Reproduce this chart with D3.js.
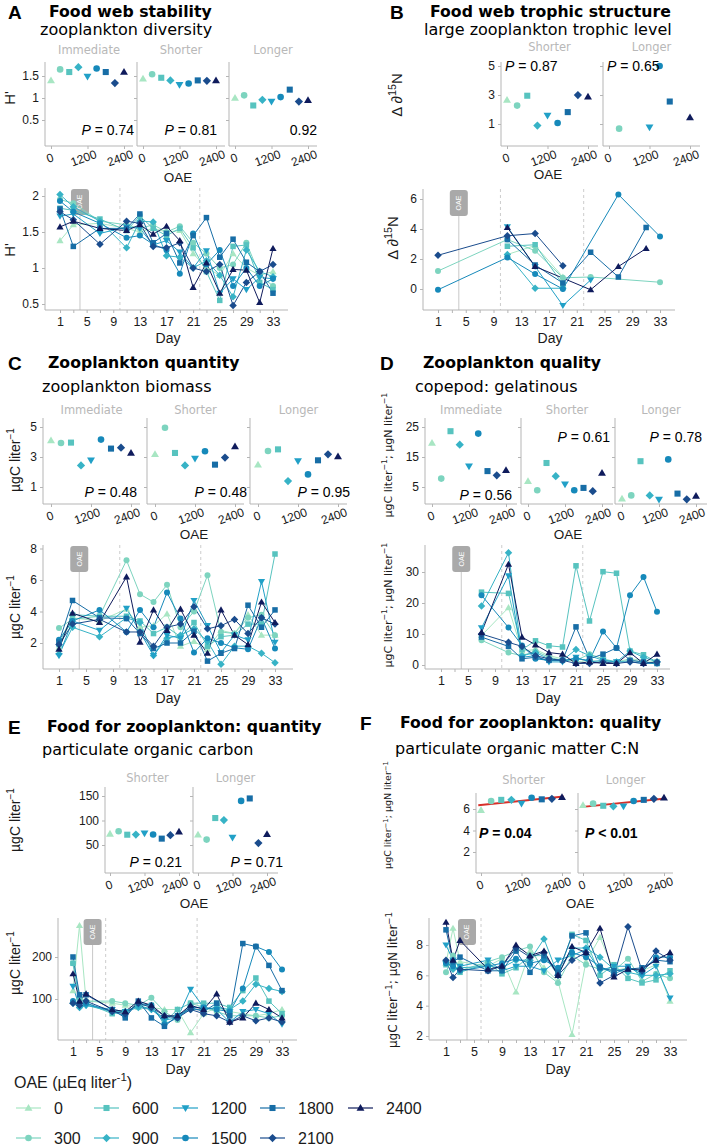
<!DOCTYPE html>
<html><head><meta charset="utf-8">
<script src="https://cdn.jsdelivr.net/npm/d3@7"></script>
<style>body{margin:0;background:#fff}</style>
</head><body><script>
// ---------------- DATA ----------------
const oaeLevels = [0,300,600,900,1200,1500,1800,2100,2400];
const tickOAE = [0,1200,2400];

// A: zooplankton diversity (H')
const diversityImmediate = [1.40,1.65,1.59,1.70,1.49,1.67,1.59,1.34,1.59];
const diversityShorter   = [1.44,1.54,1.46,1.40,1.30,1.33,1.40,1.39,1.40];
const diversityLonger    = [1.00,1.06,0.83,0.96,0.92,1.02,1.19,0.92,0.95];
const daysA = [1,3,7,11,13,15,17,19,21,23,25,27,29,31,33];
const diversityDaily = [
 [1.38,1.60,1.62,1.55,1.50,1.55,1.50,1.52,1.20,1.00,0.90,1.20,1.00,0.90,0.95],
 [1.95,1.90,1.65,1.60,1.55,1.60,1.50,1.58,1.35,1.20,1.00,1.05,1.35,0.90,0.75],
 [1.83,1.80,1.68,1.52,1.72,1.55,1.45,1.55,1.28,0.95,0.55,1.30,1.32,0.80,0.70],
 [2.02,1.85,1.65,1.28,1.65,1.64,1.17,1.15,1.00,1.10,0.90,0.60,1.25,0.95,0.88],
 [1.72,1.75,1.48,1.57,1.55,1.32,1.38,1.22,1.00,1.24,0.65,0.85,0.70,0.87,0.85],
 [1.93,1.78,1.62,1.42,1.45,1.33,1.25,0.92,1.48,1.05,1.25,0.75,1.00,0.75,0.85],
 [1.82,1.30,1.55,1.55,1.75,1.35,1.48,1.07,1.45,1.70,1.15,1.40,1.08,0.95,0.65],
 [1.78,1.67,1.33,1.65,1.62,1.30,1.28,1.35,1.00,0.95,1.05,0.48,0.80,0.95,1.05],
 [1.57,1.65,1.55,1.52,1.60,1.47,1.58,1.38,0.73,1.07,0.65,0.98,0.97,0.52,1.27]
];

// B: large zooplankton trophic level (delta d15N)
const trophicShorter = [2.66,2.27,2.95,0.89,1.59,1.07,1.82,3.00,2.89];
const trophicLonger  = [null,0.68,null,null,0.77,5.00,2.55,null,1.45];
const daysB = [1,11,15,19,23,27,31,33];
const trophicDaily = [
 [null,2.30,2.90,0.80,null,null,null,null],
 [1.20,3.30,2.55,0.75,0.80,null,null,0.45],
 [null,2.85,2.95,0.30,null,null,null,null],
 [null,2.30,0.05,0.05,null,null,null,null],
 [null,4.15,1.50,-1.10,0.60,null,null,null],
 [-0.05,2.10,1.00,0.00,null,6.30,null,3.50],
 [null,3.30,1.60,0.40,2.45,0.80,4.10,null],
 [2.25,3.55,3.70,1.55,null,null,null,null],
 [null,4.10,1.50,null,-0.05,1.50,2.70,null]
];

// C: zooplankton biomass
const biomassImmediate = [4.10,3.93,3.96,2.44,2.78,4.16,3.56,3.62,3.27];
const biomassShorter   = [3.18,4.95,3.27,2.44,2.89,3.38,2.49,2.96,3.71];
const biomassLonger    = [2.49,3.40,3.51,1.40,2.73,1.84,2.78,3.18,3.04];
const biomassDaily = [
 [1.7,3.6,3.4,4.15,3.0,3.1,3.85,1.8,2.1,1.6,2.8,2.6,3.8,2.5,2.5],
 [2.95,3.5,3.7,7.25,5.1,4.6,5.7,3.0,4.0,6.3,2.7,2.6,3.6,3.8,2.5],
 [1.9,3.8,3.7,3.7,3.4,2.6,3.0,2.4,3.3,1.8,2.4,2.5,3.2,3.2,7.65],
 [1.3,3.0,2.4,3.6,3.3,1.2,2.3,2.5,2.9,2.1,0.65,1.8,1.8,1.35,0.75],
 [1.2,3.4,2.8,4.2,2.7,1.2,2.5,2.3,4.7,3.1,1.4,2.5,2.2,5.9,2.05],
 [2.2,3.4,4.1,2.7,4.1,3.0,5.2,3.55,1.4,2.3,2.0,1.7,1.6,3.6,1.65],
 [2.05,4.7,3.6,3.55,2.6,1.65,2.0,2.0,2.75,0.85,1.35,1.65,4.4,3.0,4.1],
 [1.9,3.2,3.5,2.7,2.7,1.8,3.0,3.2,4.3,2.9,3.1,3.5,2.6,3.6,3.2],
 [1.6,3.9,3.3,6.2,2.05,4.1,2.8,4.15,2.5,1.35,4.1,2.5,1.9,4.6,3.3]
];

// D: copepod : gelatinous
const ratioImmediate = [19.7,7.8,23.6,19.1,11.9,22.8,10.3,8.9,10.6];
const ratioShorter   = [6.9,3.9,13.0,8.6,5.9,3.9,4.7,3.6,9.7];
const ratioLonger    = [1.1,2.2,13.6,2.2,0.8,14.2,2.8,0.9,2.0];
const daysD = [7,11,13,15,17,19,21,23,25,27,29,31,33];
const ratioDaily = [
 [9.5,18.5,4.5,5.0,3.0,2.0,1.0,1.5,1.0,1.0,2.0,1.5,1.0],
 [8.0,4.0,3.0,4.5,2.5,1.5,1.5,3.5,2.0,1.0,1.5,1.0,0.5],
 [23.5,23.1,5.0,7.8,6.2,5.8,32.0,14.2,30.1,29.6,4.5,3.3,1.0],
 [19.0,36.2,3.0,4.0,2.0,1.5,5.0,3.0,1.5,1.0,4.5,2.5,1.0],
 [12.0,28.8,2.5,3.0,1.0,1.0,2.5,1.0,1.5,1.0,1.0,0.5,0.5],
 [22.5,12.1,6.3,2.0,1.5,1.5,2.0,1.5,10.8,5.5,22.5,28.4,17.2],
 [9.0,6.0,2.0,2.5,1.5,1.5,12.3,2.0,3.5,5.5,1.5,1.0,0.5],
 [10.0,7.3,6.0,3.0,2.0,1.5,0.5,0.5,1.0,0.5,1.0,0.5,1.0],
 [10.5,32.5,9.0,6.5,4.0,3.5,0.5,1.0,0.5,0.5,4.0,0.5,3.5]
];

// E: particulate organic carbon
const pocShorter = [72.8,78,71,71.4,74,71.4,63,70,77];
const pocLonger  = [71,61,105,101,65,140,145,54,72];
const daysE = [1,2,3,7,9,11,13,15,17,19,21,23,25,27,29,31,33];
const pocDaily = [
 [120,275,95,90,85,80,80,75,75,20,65,80,70,65,60,65,75],
 [185,100,95,95,90,85,103,70,50,90,80,70,60,60,60,55,60],
 [185,100,90,65,70,85,85,45,75,90,90,90,80,120,150,95,65],
 [90,80,85,70,70,80,75,55,60,75,75,80,75,95,135,125,118],
 [130,80,85,75,70,85,75,50,55,123,80,75,45,70,75,65,40],
 [95,90,90,70,60,90,85,40,55,80,80,75,70,125,225,212,170],
 [200,110,110,75,55,95,55,35,60,80,70,90,60,232,225,180,120],
 [90,85,95,70,65,90,80,60,55,75,65,60,45,60,48,55,45],
 [160,95,112,75,70,95,85,60,60,85,75,112,45,55,90,75,55]
];

// F: particulate organic matter C:N
const cnShorter = [5.9,6.75,6.85,6.85,6.5,7.05,6.9,6.95,7.1];
const cnLonger  = [6.35,6.5,6.3,6.25,6.25,6.75,6.85,6.95,7.05];
const cnDaily = [
 [6.8,9.1,6.9,6.6,7.1,4.9,7.6,6.5,5.6,2.1,6.9,8.5,6.3,6.5,6.3,6.7,4.3],
 [6.2,7.3,6.3,6.9,7.2,7.6,7.9,6.2,5.5,7.3,6.7,6.4,6.3,7.1,5.6,6.1,5.8],
 [6.7,6.8,6.2,6.8,6.1,6.5,7.3,7.3,6.0,8.7,8.3,6.0,6.7,5.8,5.5,5.7,6.3],
 [6.9,6.4,6.5,6.6,6.5,7.0,7.0,8.4,6.0,7.8,7.8,7.2,6.4,6.2,6.0,6.0,6.1],
 [8.0,7.0,6.6,7.0,6.3,6.6,6.6,6.3,7.0,7.3,7.7,6.3,6.6,6.6,6.0,6.6,4.5],
 [6.8,6.6,6.3,6.6,6.8,7.1,6.8,7.0,6.5,7.5,7.2,6.6,6.1,6.5,6.2,7.2,7.2],
 [9.0,6.9,7.2,6.3,6.3,7.6,6.2,7.3,6.2,8.6,8.8,6.5,6.3,6.4,6.5,7.0,6.9],
 [7.0,5.85,6.4,6.3,6.6,7.8,7.2,7.5,6.0,7.0,7.5,5.5,6.0,9.2,6.3,7.6,7.0],
 [9.5,7.0,8.3,6.4,6.6,8.0,7.3,7.6,6.0,7.9,7.5,9.1,5.9,6.4,6.4,7.0,7.5]
];

// ---------------- STYLE ----------------
const levelColors = ["#a8e6c3","#7dd4bf","#57c3bf","#37b3c6","#21a0c7","#1689ba","#176da6","#1a4c8d","#0f1b5c"];
const levelShapes = ["tri","circle","square","diamond","triDown","circle","square","diamond","tri"];
const TF = "'DejaVu Sans', Verdana, sans-serif";
const AF = "'Liberation Sans', Arial, sans-serif";
const AXC = "#b5b5b5", TXC = "#1a1a1a";
const fmt = d => String(d);

const svg = d3.select("body").append("svg").attr("width",707).attr("height",1146);

function shapePath(k,s){
  if(k==="circle") return d3.symbol(d3.symbolCircle, Math.PI*s*s)();
  if(k==="square"){const a=s*0.92;return `M${-a},${-a}H${a}V${a}H${-a}Z`;}
  if(k==="tri") return `M0,${-s*1.2}L${s*1.2},${s*0.85}L${-s*1.2},${s*0.85}Z`;
  if(k==="triDown") return `M0,${s*1.2}L${s*1.2},${-s*0.85}L${-s*1.2},${-s*0.85}Z`;
  const b=s*1.25; return `M0,${-b}L${b},0L0,${b}L${-b},0Z`;
}

function header(letter,lx,title,tx,sub,sx,cy,scy){
  svg.append("text").attr("x",lx).attr("y",cy).attr("dy","0.35em").style("font",`bold 19px ${AF}`).attr("fill","#000").text(letter);
  svg.append("text").attr("x",tx).attr("y",cy).attr("dy","0.35em").style("font",`bold 15.7px ${TF}`).attr("fill","#000").text(title);
  svg.append("text").attr("x",sx).attr("y",scy).attr("dy","0.35em").style("font",`16px ${TF}`).attr("fill","#000").text(sub);
}

function richText(sel, parts, size){
  let up=false;
  parts.forEach(([t,sup])=>{
    const ts=sel.append("tspan").text(t);
    if(sup&&!up){ts.attr("dy",-size*0.4).style("font-size",(size*0.72)+"px");up=true;}
    else if(!sup&&up){ts.attr("dy",size*0.4);up=false;}
    else if(sup) ts.style("font-size",(size*0.72)+"px");
  });
}
function yTitle(x,y,parts,size,family){
  const t=svg.append("text").attr("transform",`translate(${x},${y}) rotate(-90)`).attr("text-anchor","middle")
    .attr("dy","0.35em").style("font",`${size}px ${family||AF}`).attr("fill",TXC);
  richText(t,parts,size);
}
const unitC = [["µgC liter"],["−1",true]];
const unitCN = [["µgC liter"],["−1",true],["; µgN liter"],["−1",true]];
const unitN = [["Δ ∂"],["15",true],["N"]];

function styleAxis(g,size){
  g.select(".domain").remove();
  g.selectAll(".tick line").attr("stroke",AXC);
  g.selectAll(".tick text").attr("fill",TXC).style("font",`${size||12}px ${AF}`);
}

function facetPanel(c){
  const y=d3.scaleLinear().domain(c.yDomain).range(c.yRange);
  c.facets.forEach((f,fi)=>{
    const g=svg.append("g");
    const x=d3.scaleLinear().domain([0,2400]).range([f.ax+c.xOff[0],f.ax+c.xOff[1]]);
    g.append("path").attr("d",`M${f.ax},${c.top}V${c.bottom}H${f.ax+c.width}`).attr("fill","none").attr("stroke",AXC);
    const ya=d3.axisLeft(y).tickValues(c.yTicks).tickSize(3).tickPadding(3).tickFormat(fi>0?"":fmt);
    styleAxis(g.append("g").attr("transform",`translate(${f.ax},0)`).call(ya));
    const xa=d3.axisBottom(x).tickValues(tickOAE).tickSize(3).tickFormat("");
    styleAxis(g.append("g").attr("transform",`translate(0,${c.bottom})`).call(xa));
    tickOAE.forEach(v=>g.append("text").attr("transform",`translate(${x(v)-(v?4:1)},${c.bottom+12}) rotate(-20)`)
      .attr("text-anchor","middle").attr("dy","0.35em").style("font",`12px ${AF}`).attr("fill",TXC).text(v));
    g.append("text").attr("x",f.ax+c.width/2).attr("y",c.labelY).attr("dy","0.35em").attr("text-anchor","middle")
      .style("font",`11.5px ${TF}`).attr("fill","#b8b8b8").text(f.label);
    if(c.fit){
      const pts=oaeLevels.map((o,i)=>[o,f.values[i]]).filter(p=>p[1]!=null);
      const mx=d3.mean(pts,p=>p[0]), my=d3.mean(pts,p=>p[1]);
      const b=d3.sum(pts,p=>(p[0]-mx)*(p[1]-my))/d3.sum(pts,p=>(p[0]-mx)**2), a=my-b*mx;
      g.append("line").attr("x1",x(-80)).attr("x2",x(2450)).attr("y1",y(a+b*-80)).attr("y2",y(a+b*2450))
        .attr("stroke","#d7302a").attr("stroke-width",2);
    }
    oaeLevels.forEach((o,i)=>{
      const v=f.values[i]; if(v==null) return;
      g.append("path").attr("d",shapePath(levelShapes[i],c.ms)).attr("transform",`translate(${x(o)},${y(v)})`).attr("fill",levelColors[i]);
    });
    if(f.p){
      const t=g.append("text").attr("x",f.p.x).attr("y",f.p.y).attr("dy","0.35em").attr("text-anchor",f.p.anchor)
        .style("font",`${f.p.bold?"bold ":""}14px ${AF}`).attr("fill","#000");
      if(f.p.showP!==false){t.append("tspan").style("font-style","italic").text("P");t.append("tspan").text(` ${f.p.op||"="} `);}
      t.append("tspan").text(f.p.text);
    }
  });
  svg.append("text").attr("x",c.oae[0]).attr("y",c.oae[1]).attr("dy","0.35em").attr("text-anchor","middle")
    .style("font",`13.5px ${AF}`).attr("fill",TXC).text("OAE");
  yTitle(c.yt[0],c.yt[1],c.yt[2],c.yt[3],c.yt[4]);
}

function tsPanel(c){
  const x=d3.scaleLinear().domain([1,33]).range(c.xRange);
  const y=d3.scaleLinear().domain(c.yDomain).range(c.yRange);
  const g=svg.append("g");
  const boxH=27;
  g.append("line").attr("x1",x(4)).attr("x2",x(4)).attr("y1",c.top+boxH).attr("y2",c.bottom).attr("stroke","#c8c8c8");
  c.dash.forEach(d=>g.append("line").attr("x1",x(d)).attr("x2",x(d)).attr("y1",c.top).attr("y2",c.bottom)
    .attr("stroke","#cccccc").attr("stroke-dasharray","3,3"));
  g.append("path").attr("d",`M${c.ax},${c.top}V${c.bottom}H${c.right}`).attr("fill","none").attr("stroke",AXC);
  styleAxis(g.append("g").attr("transform",`translate(${c.ax},0)`).call(d3.axisLeft(y).tickValues(c.yTicks).tickSize(3).tickPadding(3).tickFormat(fmt)));
  const xa=d3.axisBottom(x).tickValues(d3.range(1,34,2)).tickSize(3).tickPadding(4).tickFormat(d=>(d-1)%4===0?d:"");
  styleAxis(g.append("g").attr("transform",`translate(0,${c.bottom})`).call(xa),12.5);
  g.append("rect").attr("x",x(4)-9).attr("y",c.top+1).attr("width",18).attr("height",boxH-1).attr("rx",3).attr("fill","#a9a9a9");
  g.append("text").attr("transform",`translate(${x(4)},${c.top+1+(boxH-1)/2}) rotate(-90)`).attr("text-anchor","middle")
    .attr("dy","0.35em").style("font",`7px ${AF}`).attr("fill","#fff").text("OAE");
  const line=d3.line().x(d=>x(d[0])).y(d=>y(d[1]));
  const series=c.rows.map(r=>c.days.map((d,j)=>[d,r[j]]).filter(p=>p[1]!=null));
  series.forEach((s,i)=>g.append("path").attr("d",line(s)).attr("fill","none").attr("stroke",levelColors[i]).attr("stroke-width",1));
  series.forEach((s,i)=>s.forEach(p=>g.append("path").attr("d",shapePath(levelShapes[i],3)).attr("transform",`translate(${x(p[0])},${y(p[1])})`).attr("fill",levelColors[i])));
  svg.append("text").attr("x",c.dayLabel[0]).attr("y",c.dayLabel[1]).attr("dy","0.35em").attr("text-anchor","middle")
    .style("font",`14px ${AF}`).attr("fill",TXC).text("Day");
  yTitle(c.yt[0],c.yt[1],c.yt[2],c.yt[3],c.yt[4]);
}

// ---------------- PANEL A ----------------
header("A",8,"Food web stability",49,"zooplankton diversity",40,12,29);
facetPanel({top:62,bottom:146,width:88,xOff:[6,79],yDomain:[0.5,1.5],yRange:[120,76],yTicks:[0.5,1,1.5],labelY:50,ms:3.3,
  facets:[{ax:45,label:"Immediate",values:diversityImmediate,p:{text:"0.74",x:134,y:130,anchor:"end"}},
          {ax:137,label:"Shorter",values:diversityShorter,p:{text:"0.81",x:217,y:130,anchor:"end"}},
          {ax:229,label:"Longer",values:diversityLonger,p:{text:"0.92",x:317,y:130,anchor:"end",showP:false}}],
  oae:[178,177],yt:[10,98,[["H'"]],15]});
tsPanel({ax:45,top:188,bottom:310,right:288,xRange:[60,273],yDomain:[0.5,2],yRange:[304,196],yTicks:[0.5,1,1.5,2],
  days:daysA,rows:diversityDaily,dash:[10,22],dayLabel:[168,338],yt:[10,250,[["H'"]],15]});

// ---------------- PANEL B ----------------
header("B",390,"Food web trophic structure",430,"large zooplankton trophic level",424,12,29);
facetPanel({top:62,bottom:146,width:97,xOff:[6,87],yDomain:[1,5],yRange:[124,66],yTicks:[1,3,5],labelY:47,ms:3.3,
  facets:[{ax:501,label:"Shorter",values:trophicShorter,p:{text:"0.87",x:505,y:66,anchor:"start"}},
          {ax:603,label:"Longer",values:trophicLonger,p:{text:"0.65",x:607,y:66,anchor:"start"}}],
  oae:[548,174],yt:[397,95,unitN,15]});
tsPanel({ax:423,top:189,bottom:310,right:675,xRange:[438,660],yDomain:[0,6],yRange:[289,199],yTicks:[0,2,4,6],
  days:daysB,rows:trophicDaily,dash:[10,22],dayLabel:[550,338],yt:[393,238,unitN,15]});

// ---------------- PANEL C ----------------
header("C",8,"Zooplankton quantity",48,"zooplankton biomass",42,363,386);
facetPanel({top:418,bottom:504,width:97,xOff:[8,88],yDomain:[1,5],yRange:[487,427],yTicks:[1,3,5],labelY:410,ms:3.3,
  facets:[{ax:43,label:"Immediate",values:biomassImmediate,p:{text:"0.48",x:137,y:492,anchor:"end"}},
          {ax:147,label:"Shorter",values:biomassShorter,p:{text:"0.48",x:247,y:492,anchor:"end"}},
          {ax:250,label:"Longer",values:biomassLonger,p:{text:"0.95",x:350,y:492,anchor:"end"}}],
  oae:[194,534],yt:[15,460,unitC,14]});
tsPanel({ax:43,top:545,bottom:669,right:293,xRange:[59,275],yDomain:[2,6],yRange:[643,580],yTicks:[2,4,6,8],
  days:daysA,rows:biomassDaily,dash:[10,22],dayLabel:[168,698],yt:[15,607,unitC,14]});

// ---------------- PANEL D ----------------
header("D",380,"Zooplankton quality",423,"copepod: gelatinous",415,363,386);
facetPanel({top:418,bottom:504,width:92,xOff:[7,81],yDomain:[5,25],yRange:[487,427],yTicks:[5,15,25],labelY:410,ms:3.3,
  facets:[{ax:425,label:"Immediate",values:ratioImmediate,p:{text:"0.56",x:512,y:495,anchor:"end"}},
          {ax:521,label:"Shorter",values:ratioShorter,p:{text:"0.61",x:610,y:437,anchor:"end"}},
          {ax:615,label:"Longer",values:ratioLonger,p:{text:"0.78",x:702,y:437,anchor:"end"}}],
  oae:[568,534],yt:[388,455,unitCN,11,TF]});
tsPanel({ax:425,top:545,bottom:669,right:670,xRange:[441,657],yDomain:[0,30],yRange:[665,572],yTicks:[0,10,20,30],
  days:daysD,rows:ratioDaily,dash:[10,22],dayLabel:[548,698],yt:[388,605,unitCN,11,TF]});

// ---------------- PANEL E ----------------
header("E",8,"Food for zooplankton: quantity",47,"particulate organic carbon",42,727,749);
facetPanel({top:787,bottom:873,width:85,xOff:[5,74],yDomain:[50,150],yRange:[845,796],yTicks:[50,100,150],labelY:778,ms:3.3,
  facets:[{ax:105,label:"Shorter",values:pocShorter,p:{text:"0.21",x:182,y:862,anchor:"end"}},
          {ax:193,label:"Longer",values:pocLonger,p:{text:"0.71",x:283,y:862,anchor:"end"}}],
  oae:[194,903],yt:[15,820,unitC,14]});
tsPanel({ax:58,top:918,bottom:1040,right:297,xRange:[73,282],yDomain:[100,200],yRange:[999,957],yTicks:[100,200],
  days:daysE,rows:pocDaily,dash:[6,20],dayLabel:[178,1069],yt:[15,963,unitC,14]});

// ---------------- PANEL F ----------------
header("F",360,"Food for zooplankton: quality",400,"particulate organic matter C:N",395,723,748);
facetPanel({top:793,bottom:873,width:95,xOff:[5,86],yDomain:[2,6],yRange:[852,809],yTicks:[2,4,6],labelY:780,ms:3.3,fit:true,
  facets:[{ax:476,label:"Shorter",values:cnShorter,p:{text:"0.04",x:479,y:833,anchor:"start",bold:true}},
          {ax:578,label:"Longer",values:cnLonger,p:{text:"0.01",op:"<",x:585,y:833,anchor:"start",bold:true}}],
  oae:[580,903],yt:[388,815,unitCN,9.5,TF]});
tsPanel({ax:429,top:918,bottom:1040,right:687,xRange:[446,670],yDomain:[2,8],yRange:[1036,945],yTicks:[2,4,6,8],
  days:daysE,rows:cnDaily,dash:[6,20],dayLabel:[558,1069],yt:[393,980,unitCN,12,TF]});

// ---------------- LEGEND ----------------
const lt=svg.append("text").attr("x",14).attr("y",1082).attr("dy","0.35em").style("font",`16px ${AF}`).attr("fill",TXC);
richText(lt,[["OAE (µEq liter"],["-1",true],[")"]],16);
const legCols=[16,94,173,260,348];
oaeLevels.forEach((o,i)=>{
  const col=Math.floor(i/2), row=i%2;
  const x0=legCols[col], yy=row===0?1108:1138;
  svg.append("line").attr("x1",x0).attr("x2",x0+25).attr("y1",yy).attr("y2",yy).attr("stroke",levelColors[i]).attr("stroke-width",1.2);
  svg.append("path").attr("d",shapePath(levelShapes[i],3.3)).attr("transform",`translate(${x0+12.5},${yy})`).attr("fill",levelColors[i]);
  svg.append("text").attr("x",x0+38).attr("y",yy).attr("dy","0.35em").style("font",`16px ${AF}`).attr("fill",TXC).text(o);
});
</script></body></html>
